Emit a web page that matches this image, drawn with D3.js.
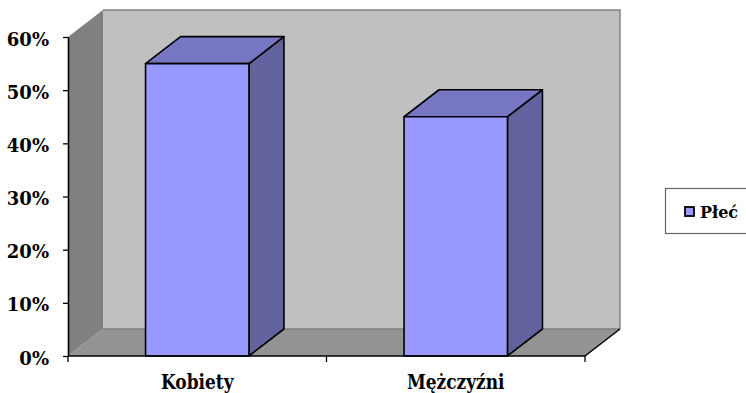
<!DOCTYPE html>
<html>
<head>
<meta charset="utf-8">
<script src="https://cdn.jsdelivr.net/npm/d3@7"></script>
<style>
  html, body { margin: 0; padding: 0; background: #fff; }
  svg { display: block; }
</style>
</head>
<body>
<svg id="chart" width="746" height="393"></svg>
<script>
// Chart data
const categories = ["Kobiety", "Mężczyźni"];
const values = [0.55, 0.45];
const seriesName = "Płeć";
const yTicks = [0, 0.1, 0.2, 0.3, 0.4, 0.5, 0.6];

const FONT = "'DejaVu Serif', 'Liberation Serif', 'Times New Roman', serif";

const svg = d3.select("#chart");

// Front plane of the 3D plot area and the depth offset of the back plane
const plot = { left: 68, right: 585, top: 37, bottom: 356 };
const depth = { dx: 35, dy: -27 };

const y = d3.scaleLinear().domain([0, 0.6]).range([plot.bottom, plot.top]);
const x = d3.scaleBand().domain(categories).range([plot.left, plot.right])
  .paddingInner(0.6).paddingOuter(0.3);

const poly = pts => pts.map(p => p.join(",")).join(" ");
const g = svg.append("g");

// Back wall
g.append("polygon")
  .attr("points", poly([
    [plot.left + depth.dx, plot.top + depth.dy],
    [plot.right + depth.dx, plot.top + depth.dy],
    [plot.right + depth.dx, plot.bottom + depth.dy],
    [plot.left + depth.dx, plot.bottom + depth.dy]
  ]))
  .attr("fill", "#c0c0c0");
g.append("polyline")
  .attr("points", poly([
    [plot.left + depth.dx, plot.top + depth.dy],
    [plot.right + depth.dx, plot.top + depth.dy],
    [plot.right + depth.dx, plot.bottom + depth.dy]
  ]))
  .attr("fill", "none").attr("stroke", "#848484").attr("stroke-width", 1.5);

// Side wall
g.append("polygon")
  .attr("points", poly([
    [plot.left, plot.top],
    [plot.left + depth.dx, plot.top + depth.dy],
    [plot.left + depth.dx, plot.bottom + depth.dy],
    [plot.left, plot.bottom]
  ]))
  .attr("fill", "#808080");

// Floor
g.append("polygon")
  .attr("points", poly([
    [plot.left, plot.bottom],
    [plot.left + depth.dx, plot.bottom + depth.dy],
    [plot.right + depth.dx, plot.bottom + depth.dy],
    [plot.right, plot.bottom]
  ]))
  .attr("fill", "#939393");
g.append("line")
  .attr("x1", plot.left + depth.dx).attr("y1", plot.bottom + depth.dy)
  .attr("x2", plot.right + depth.dx).attr("y2", plot.bottom + depth.dy)
  .attr("stroke", "#7e7e7e").attr("stroke-width", 1.5);

// Floor right edge
g.append("line")
  .attr("x1", plot.right).attr("y1", plot.bottom)
  .attr("x2", plot.right + depth.dx).attr("y2", plot.bottom + depth.dy)
  .attr("stroke", "#000").attr("stroke-width", 1.5);

// 3D columns
const bars = g.selectAll("g.bar")
  .data(categories.map((c, i) => ({ c, v: values[i] })))
  .join("g").attr("class", "bar")
  .attr("stroke", "#000").attr("stroke-width", 1.6).attr("stroke-linejoin", "round");

bars.append("polygon") // right side
  .attr("points", d => {
    const x1 = x(d.c) + x.bandwidth(), yt = y(d.v), yb = y(0);
    return poly([[x1, yt], [x1 + depth.dx, yt + depth.dy], [x1 + depth.dx, yb + depth.dy], [x1, yb]]);
  })
  .attr("fill", "#62629f");

bars.append("polygon") // top
  .attr("points", d => {
    const x0 = x(d.c), x1 = x0 + x.bandwidth(), yt = y(d.v);
    return poly([[x0, yt], [x0 + depth.dx, yt + depth.dy], [x1 + depth.dx, yt + depth.dy], [x1, yt]]);
  })
  .attr("fill", "#7676c2");

bars.append("rect") // front
  .attr("x", d => x(d.c))
  .attr("y", d => y(d.v))
  .attr("width", x.bandwidth())
  .attr("height", d => y(0) - y(d.v))
  .attr("fill", "#9999ff");

// Value axis
const yAxis = svg.append("g")
  .attr("transform", `translate(${plot.left},0)`)
  .call(d3.axisLeft(y).tickValues(yTicks).tickFormat(d3.format(".0%")).tickSize(5).tickSizeOuter(0).tickPadding(7));
yAxis.attr("font-family", FONT).attr("font-size", 18).attr("font-weight", "bold");
yAxis.select(".domain").attr("stroke", "#000").attr("stroke-width", 1.6);
yAxis.selectAll(".tick line").attr("stroke", "#000").attr("stroke-width", 1.3);
yAxis.selectAll(".tick text")
  .attr("fill", "#000")
  .attr("x", -19)
  .attr("dy", "0.45em");

// Category axis
const xAxis = svg.append("g")
  .attr("transform", `translate(0,${plot.bottom})`);
xAxis.append("line")
  .attr("x1", plot.left).attr("x2", plot.right)
  .attr("stroke", "#000").attr("stroke-width", 1.6);
const boundaries = [plot.left, (x(categories[0]) + x.bandwidth() + x(categories[1])) / 2, plot.right];
xAxis.selectAll("line.tick").data(boundaries).join("line").attr("class", "tick")
  .attr("x1", d => d).attr("x2", d => d).attr("y1", 0).attr("y2", 6)
  .attr("stroke", "#000").attr("stroke-width", 1.3);
xAxis.selectAll("text").data(categories).join("text")
  .attr("transform", d => `translate(${x(d) + x.bandwidth() / 2},33) scale(0.85,1)`)
  .attr("text-anchor", "middle")
  .attr("font-family", FONT).attr("font-weight", "bold").attr("font-size", 20)
  .text(d => d);

// Legend
const legend = svg.append("g").attr("transform", "translate(665,188)");
legend.append("rect")
  .attr("x", 0.5).attr("y", 0.5).attr("width", 90).attr("height", 45)
  .attr("fill", "#fff").attr("stroke", "#666").attr("stroke-width", 1.2);
legend.append("rect")
  .attr("x", 20).attr("y", 19).attr("width", 9).attr("height", 9)
  .attr("fill", "#9999ff").attr("stroke", "#000").attr("stroke-width", 1.8);
legend.append("text")
  .attr("x", 35).attr("y", 30)
  .attr("font-family", FONT).attr("font-weight", "bold").attr("font-size", 16)
  .text(seriesName);
</script>
</body>
</html>
